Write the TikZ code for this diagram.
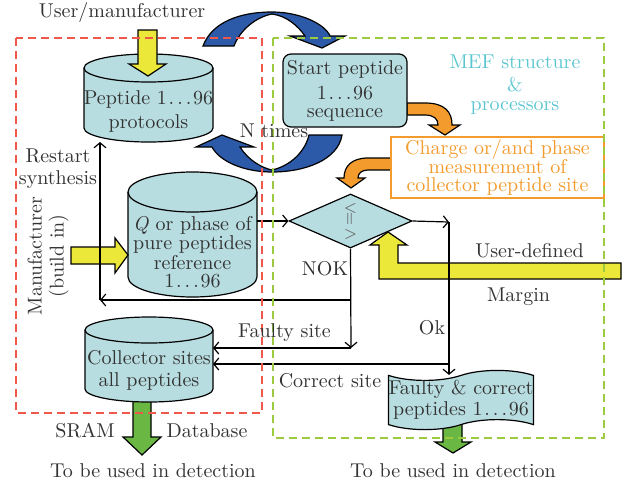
\documentclass[tikz,border=0pt]{standalone}
\usepackage{tikz}
\usetikzlibrary{positioning,shapes.geometric,shapes.symbols,arrows.meta}
\newcommand{\upto}{\kern0.9pt.\kern1.5pt.\kern1.5pt.\kern0.9pt}

\begin{document}
\begin{tikzpicture}[x=0.5pt,y=-0.5pt,line width=0.6pt,
    every node/.style={text=ink},
    label/.style={align=center, inner sep=0pt},
    flow/.style={draw=black, -{Straight Barb[length=2.5pt,width=6pt]}},
    frame/.style={dashed, dash pattern=on 4pt off 2.5pt, line width=0.7pt}]
    % colours taken from the figure
    \definecolor{ink}{HTML}{333333}
    \definecolor{cell}{HTML}{B8DDE1}
    \definecolor{yel}{HTML}{ECE83A}
    \definecolor{grn}{HTML}{6AB843}
    \definecolor{org}{HTML}{F39B2D}
    \definecolor{blu}{HTML}{2D5AA8}
    \definecolor{mef}{HTML}{5CC6D0}
    \definecolor{redbox}{HTML}{F0584C}
    \definecolor{grnbox}{HTML}{9CCB3F}
    \useasboundingbox (0,0) rectangle (624,482);

    % loop arrows and bent arrows
    \filldraw[fill=blu] (203,46) .. controls (212,22) and (240,12) .. (272,12) .. controls (300,12) and (325,24) .. (330,36) -- (345,36) -- (322,48) -- (290,36) -- (305,36) .. controls (298,26) and (287,16) .. (272,14) .. controls (256,17) and (240,30) .. (234,46) -- cycle;
    \filldraw[fill=blu] (309,135) -- (342,135) .. controls (338,160) and (305,172) .. (272,172) .. controls (245,172) and (220,162) .. (212,147) -- (196,147) -- (222,135) -- (254,147) -- (240,147) .. controls (248,160) and (262,168) .. (272,170) .. controls (290,166) and (305,152) .. (309,135) -- cycle;
    \filldraw[fill=org] (407,103) -- (425,103) .. controls (445,103) and (452,112) .. (452,125) -- (460,125) -- (445,135) -- (429,125) -- (438,125) .. controls (438,119) and (434,115) .. (425,115) -- (407,115) -- cycle;
    \filldraw[fill=org] (391,158) -- (368,158) .. controls (352,158) and (344,166) .. (344,178) -- (337,178) -- (351,188) -- (365,178) -- (358,178) .. controls (358,173) and (362,170) .. (368,170) -- (391,170) -- cycle;
    \filldraw[fill=grn] (133,395) -- (151,395) -- (151,437) -- (161,437) -- (142,455) -- (123,437) -- (133,437) -- cycle;
    \filldraw[fill=grn] (443,420) -- (462,420) -- (462,442) -- (471,442) -- (453,453) -- (435,442) -- (443,442) -- cycle;

    % cylinders
    \filldraw[fill=cell] (84,68) -- (84,128) arc[start angle=180, end angle=0, x radius=64.5, y radius=14] -- (213,68) arc[start angle=360, end angle=180, x radius=64.5, y radius=14] -- cycle;
    \draw (84,68) arc[start angle=180, end angle=0, x radius=64.5, y radius=14];
    \filldraw[fill=cell] (128,192) -- (128,277) arc[start angle=180, end angle=0, x radius=64.5, y radius=20] -- (257,192) arc[start angle=360, end angle=180, x radius=64.5, y radius=20] -- cycle;
    \draw (128,192) arc[start angle=180, end angle=0, x radius=64.5, y radius=20];
    \filldraw[fill=cell] (85,330) -- (85,389) arc[start angle=180, end angle=0, x radius=64, y radius=13] -- (213,330) arc[start angle=360, end angle=180, x radius=64, y radius=13] -- cycle;
    \draw (85,330) arc[start angle=180, end angle=0, x radius=64, y radius=13];

    \filldraw[fill=yel] (138,30) -- (157,30) -- (157,64) -- (166,64) -- (148,76) -- (129,64) -- (138,64) -- cycle;
    \filldraw[fill=yel] (71,247) -- (115,247) -- (115,238) -- (128,255) -- (115,273) -- (115,264) -- (71,264) -- cycle;
    \filldraw[fill=yel] (621,263) -- (398,263) -- (398,245) -- (407,245) -- (388,232) -- (370,245) -- (379,245) -- (379,279) -- (621,279) -- cycle;

    % stores and boxes
    \node[label] (proto) at (148.5,111) {Peptide 1\upto96\\protocols};
    \node[label] (qref) at (192.5,252.5) {\textit{Q} or phase of\\[-2.5pt]pure peptides\\[-2pt]reference\\[-3pt]1\upto96};
    \node[label] (coll) at (149,370) {Collector sites\\[-1pt]all peptides};
    \node[draw=black, fill=cell, rounded corners=4pt, minimum width=62pt, minimum height=36.5pt, align=center, inner sep=0pt] (start) at (345,90.5) {Start peptide\\[0.5pt]1\upto96\\[-3pt]sequence};
    \node[draw=org, fill=white, text=org, minimum width=106.5pt, minimum height=30.5pt, align=center, inner sep=0pt] (meas) at (497.5,167.5) {Charge or/and phase\\[-2.5pt]measurement of\\[-3pt]collector peptide site};
    \node[diamond, draw=black, fill=cell, minimum width=61.5pt, minimum height=27pt, inner sep=0pt, align=center, font=\footnotesize, text=ink!80] (cmp) at (350.5,221) {$<$\\[-3pt]\rotatebox{90}{$=$}\\[-3pt]$>$};
    \node[tape, draw=black, fill=cell, minimum width=69pt, minimum height=28pt, align=center, inner sep=0pt] (pool) at (461,400) {Faulty \& correct\\[-1.5pt]peptides 1\upto96};

    % connectors
    \coordinate (qout) at (257,221);
    \coordinate (protob) at (148.5,142);
    \coordinate (collr) at (213,360);
    \coordinate (rst) at (100,300);
    \coordinate (nok) at (351,348);
    \coordinate (okc) at (449,222);
    \coordinate (okj) at (449,364);
    \draw[flow] (qout) -- (cmp.west);
    \draw[flow] (cmp.south) -- (nok);
    \draw[flow] (nok) -- (nok -| collr);
    \draw[flow] (cmp.south |- rst) -- (rst);
    \draw[flow] (rst) -- (rst |- protob);
    \draw[flow] (cmp.east) -- (okc);
    \draw[flow] (okc) -- (okc |- pool.north);
    \draw[flow] (okj) -- (okj -| collr);

    % dashed frames
    \draw[frame, redbox] (16,38) rectangle (262,413);
    \draw[frame, grnbox] (273,38) rectangle (604,438);

    % labels
    \node[anchor=base] (umf) at (122,18) {User/manufacturer};
    \node[anchor=base] (ntimes) at (274,137) {N times};
    \node[label] (restart) at (58,169) {Restart\\[-1pt]synthesis};
    \node[label, rotate=90] (manu) at (48,256) {Manufacturer\\[-1pt](build in)};
    \node[label, text=mef] (mefs) at (515,85) {MEF structure\\[-0.5pt]\&\\[-2.5pt]processors};
    \node[anchor=base] (noklbl) at (325,275) {NOK};
    \node[anchor=base] (faulty) at (284.5,337) {Faulty site};
    \node[anchor=base] (oklbl) at (432,334) {Ok};
    \node[anchor=base] (correct) at (330,387) {Correct site};
    \node[anchor=base] (userdef) at (529.5,257) {User-defined};
    \node[anchor=base] (margin) at (518.5,301) {Margin};
    \node[anchor=base] (sram) at (85,437) {SRAM};
    \node[anchor=base] (dbase) at (207,437) {Database};
    \node[anchor=base] (use1) at (153,477) {To be used in detection};
    \node[anchor=base] (use2) at (453,477) {To be used in detection};
\end{tikzpicture}
\end{document}
